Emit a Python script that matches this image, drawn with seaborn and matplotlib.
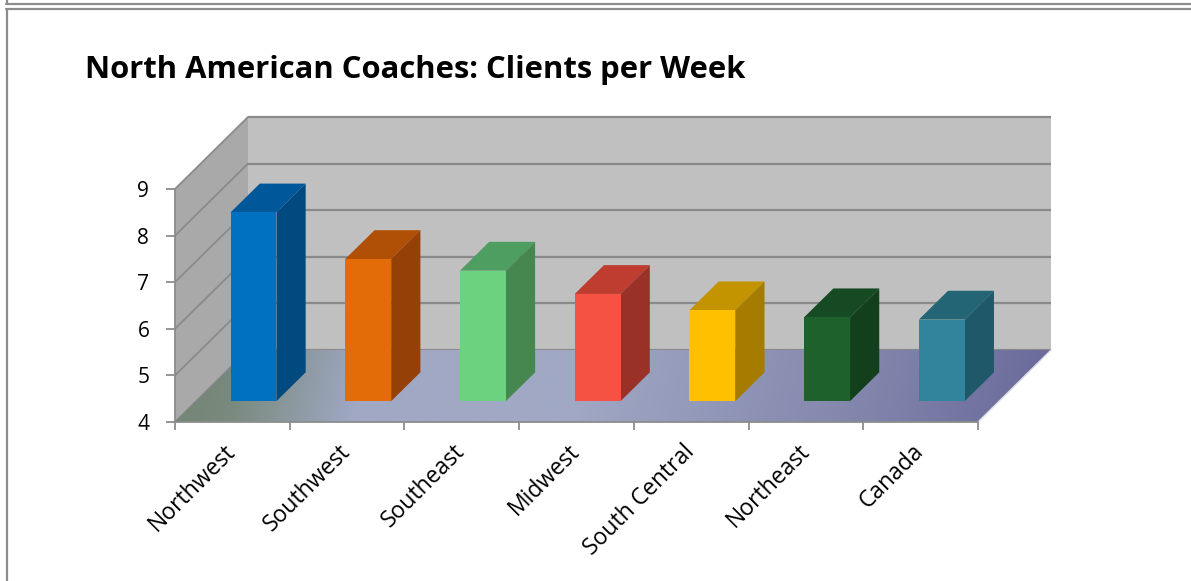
import numpy as np
import matplotlib
matplotlib.use("Agg")
import matplotlib.pyplot as plt
import seaborn as sns
from matplotlib.transforms import Affine2D
from matplotlib.patches import Polygon
from matplotlib.lines import Line2D
from matplotlib.colors import LinearSegmentedColormap

# ---------------- data ----------------
categories = ["Northwest", "Southwest", "Southeast", "Midwest",
              "South Central", "Northeast", "Canada"]
clients = [8.05, 7.05, 6.8, 6.3, 5.95, 5.8, 5.75]
y_ticks = [4, 5, 6, 7, 8, 9]
title = "North American Coaches: Clients per Week"

# ---------------- styles ----------------
front_colors = ["#0070c0", "#e36c09", "#6cd280", "#f55243", "#ffc000", "#1e612d", "#31849b"]
top_colors = ["#00579a", "#b04f06", "#4f9e61", "#bf3d30", "#c49300", "#164a22", "#236574"]
side_colors = ["#004a80", "#944006", "#46874f", "#9a3126", "#a57c00", "#143f1d", "#1f5868"]

sns.set_theme(style="white")
plt.rcParams["font.family"] = ["Open Sans", "DejaVu Sans"]

W, H = 1191, 581
fig = plt.figure(figsize=(W / 100, H / 100), dpi=100)
fig.patch.set_facecolor("white")

# front plane of the 3-D box (pixels): x 175..978, y 189(top)..422(bottom)
ax = fig.add_axes([175 / W, 1 - 422 / H, (978 - 175) / W, (422 - 189) / H])
ax.set_facecolor("none")

base, top = y_ticks[0], y_ticks[-1]
n = len(categories)
DX = 73 / ((978 - 175) / n)        # depth offset, category units
DY = 72 / ((422 - 189) / (top - base))  # depth offset, value units
T0, T1 = 0.29, 0.69                # bar depth range (fraction of box depth)

sns.barplot(x=categories, y=clients, hue=categories, palette=front_colors,
            width=0.4, saturation=1, legend=False, ax=ax, zorder=6)

xl, xr = -0.5, n - 0.5
grid_c = "#8a8a8a"

# walls
side_wall = Polygon([(xl, base), (xl + DX, base + DY), (xl + DX, top + DY), (xl, top)],
                    closed=True, facecolor="#a9a9a9", edgecolor="none",
                    transform=ax.transData, clip_on=False, zorder=1)
back_wall = Polygon([(xl + DX, base + DY), (xr + DX, base + DY), (xr + DX, top + DY), (xl + DX, top + DY)],
                    closed=True, facecolor="#c0c0c0", edgecolor="none",
                    transform=ax.transData, clip_on=False, zorder=1)
ax.add_patch(side_wall)
ax.add_patch(back_wall)
for v in y_ticks:
    ax.plot([xl + DX, xr + DX], [v + DY, v + DY], color=grid_c, lw=1.6,
            clip_on=False, zorder=2, solid_capstyle="butt")
    ax.plot([xl, xl + DX], [v, v + DY], color=grid_c, lw=1.3,
            clip_on=False, zorder=2)

# floor with gradient
floor_pts = [(xl, base), (xr, base), (xr + DX, base + DY), (xl + DX, base + DY)]
floor_poly = Polygon(floor_pts, closed=True, transform=ax.transData,
                     facecolor="none", edgecolor="none")
cmap = LinearSegmentedColormap.from_list(
    "floor", [(0.0, "#748676"), (0.06, "#7a8a7e"), (0.2, "#a0a8c4"),
              (0.45, "#a0a8c4"), (0.75, "#8589ae"), (1.0, "#69699a")])
nx, ny = 500, 120
u = np.linspace(0, 1, nx)[None, :]
vv = np.linspace(0, 1, ny)[:, None]
s = np.clip(u - 0.02 * vv, 0, 1)
img = cmap(s)
im = ax.imshow(img, extent=[xl, xr + DX, base, base + DY], origin="lower",
               aspect="auto", interpolation="bilinear", zorder=3)
im.set_clip_path(floor_poly)
im.set_clip_box(fig.bbox)
ax.plot([xr, xr + DX], [base, base + DY], color="#dcdce6", lw=1.0,
        clip_on=False, zorder=3.5)

# bars: shift front faces into depth, add top and side faces
for cont in ax.containers:
    for p in cont:
        x0, w, v = p.get_x(), p.get_width(), p.get_height()
        i = int(round(x0 + w / 2))
        p.set_y(base)
        p.set_height(v - base)
        p.set_transform(Affine2D().translate(T0 * DX, T0 * DY) + ax.transData)
        p.set_clip_on(False)
        p.set_edgecolor("none")
        p.set_zorder(6)
        top_face = [(x0 + T0 * DX, v + T0 * DY), (x0 + w + T0 * DX, v + T0 * DY),
                    (x0 + w + T1 * DX, v + T1 * DY), (x0 + T1 * DX, v + T1 * DY)]
        side_face = [(x0 + w + T0 * DX, base + T0 * DY), (x0 + w + T1 * DX, base + T1 * DY),
                     (x0 + w + T1 * DX, v + T1 * DY), (x0 + w + T0 * DX, v + T0 * DY)]
        ax.add_patch(Polygon(top_face, closed=True, facecolor=top_colors[i],
                             edgecolor="none", clip_on=False, zorder=5))
        ax.add_patch(Polygon(side_face, closed=True, facecolor=side_colors[i],
                             edgecolor="none", clip_on=False, zorder=5))

ax.set_xlim(xl, xr)
ax.set_ylim(base, top)

# axes
for sp in ["top", "right"]:
    ax.spines[sp].set_visible(False)
for sp in ["left", "bottom"]:
    ax.spines[sp].set_color("#8c8c8c")
    ax.spines[sp].set_linewidth(1.3)
    ax.spines[sp].set_zorder(7)

ax.set_yticks(y_ticks)
ax.set_yticklabels([str(t) for t in y_ticks], fontsize=15, color="black")
ax.tick_params(axis="y", left=True, length=6.5, width=1.3, color="#8c8c8c", pad=12)

ax.set_xticks(range(n))
ax.set_xticklabels(categories, rotation=45, ha="right", va="center",
                   rotation_mode="anchor", fontsize=16.5, color="black")
ax.set_xticks(np.arange(xl, xr + 0.01, 1), minor=True)
ax.tick_params(axis="x", which="major", bottom=True, length=0, pad=19)
ax.tick_params(axis="x", which="minor", bottom=True, length=6, width=1.3, color="#8c8c8c")
ax.set_xlabel("")
ax.set_ylabel("")

# title
fig.text(85 / W, 1 - 78 / H, title, fontsize=22.3, fontweight="bold",
         color="black", ha="left", va="baseline")

# outer frame lines (pixel positions in figure)
def fx(px):
    return px / W

def fy(py):
    return 1 - py / H

frame_c = "#8c8c8c"
fig.add_artist(Line2D([fx(6), fx(W)], [fy(4), fy(4)], color=frame_c, lw=1.6))
fig.add_artist(Line2D([fx(6.5), fx(6.5)], [fy(0), fy(4)], color=frame_c, lw=1.6))
fig.add_artist(Line2D([fx(6), fx(W)], [fy(9), fy(9)], color=frame_c, lw=1.6))
fig.add_artist(Line2D([fx(6.5), fx(6.5)], [fy(9), fy(H)], color=frame_c, lw=1.6))

fig.savefig("out.png", dpi=100)
